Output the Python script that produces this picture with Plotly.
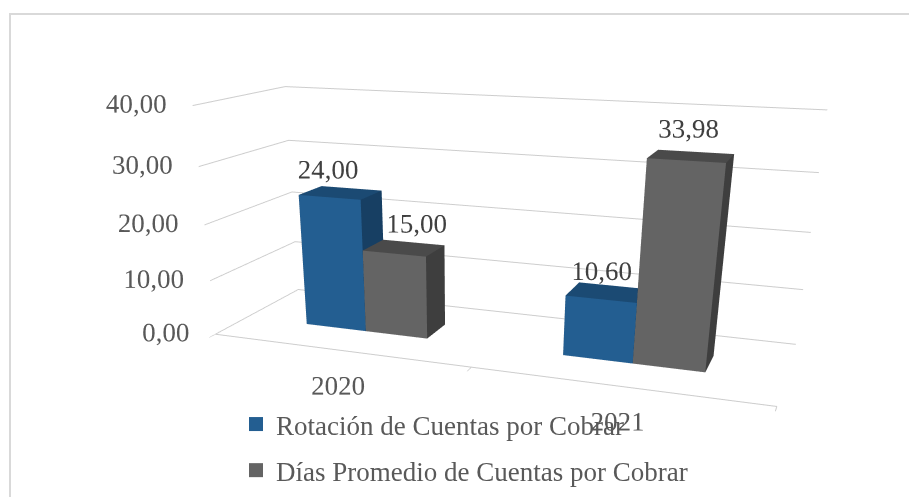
import plotly.graph_objects as go

categories = ["2020", "2021"]
series_names = ["Rotación de Cuentas por Cobrar", "Días Promedio de Cuentas por Cobrar"]
rotacion = [24.00, 10.60]
dias = [15.00, 33.98]
z_ticks = [0, 10, 20, 30, 40]
z_tick_labels = ["0,00", "10,00", "20,00", "30,00", "40,00"]

FONT = "Liberation Serif"
front_cols = ["#235E91", "#646464"]
top_cols = ["#1B4A73", "#4A4A4A"]
side_cols = ["#173F63", "#3E3E3E"]
GRID = "#CDCDCD"
# label placement per series / category: (text position, anchor as fraction of bar width)
label_pos = [["middle center", "middle center"], ["middle right", "middle center"]]
label_anchor = [[0.5, 0.5], [0.0, 0.5]]

BAR_W = 0.245
Y0, Y1 = 0.36, 0.64
XMIN, XMAX = -0.5, 1.5
LABEL_PAD = 4.5

# figure / scene geometry (perspective camera calibrated to the reference view)
W = 909
HV = 900
HLAY = 900
EYE = dict(x=1.4864, y=-4.4459, z=1.0648)
CENTER = dict(x=-0.0536, y=-0.3601, z=-0.9461)
ASPECT = dict(x=2.5, y=0.789, z=1.003)


def fmt(v):
    return f"{v:.2f}".replace(".", ",")


def box(xa, xb, h, fc, tc, sc):
    xs = [xa, xb, xb, xa, xa, xb, xb, xa]
    ys = [Y0, Y0, Y1, Y1, Y0, Y0, Y1, Y1]
    zs = [0, 0, 0, 0, h, h, h, h]
    i = [0, 0, 4, 4, 0, 0, 3, 3, 0, 0, 1, 1]
    j = [1, 2, 5, 6, 1, 5, 2, 6, 3, 7, 2, 6]
    k = [2, 3, 6, 7, 5, 4, 6, 7, 7, 4, 6, 5]
    cols = [sc, sc, tc, tc, fc, fc, sc, sc, sc, sc, sc, sc]
    return go.Mesh3d(x=xs, y=ys, z=zs, i=i, j=j, k=k, facecolor=cols,
                     flatshading=True, hoverinfo="skip", showlegend=False,
                     lighting=dict(ambient=1, diffuse=0, specular=0, roughness=1, fresnel=0))


fig = go.Figure()
all_series = [rotacion, dias]
for s, vals in enumerate(all_series):
    for c, v in enumerate(vals):
        xa = c - BAR_W + s * BAR_W
        fig.add_trace(box(xa, xa + BAR_W, v, front_cols[s], top_cols[s], side_cols[s]))

# data labels
for s, vals in enumerate(all_series):
    xs = [c - BAR_W + s * BAR_W + label_anchor[s][c] * BAR_W for c in range(len(vals))]
    fig.add_trace(go.Scatter3d(x=xs, y=[Y0] * len(vals), z=[v + LABEL_PAD for v in vals],
                               mode="text", text=[fmt(v) for v in vals],
                               textposition=label_pos[s],
                               textfont=dict(family=FONT, size=27, color="#404040"),
                               showlegend=False, hoverinfo="skip"))

# value-axis tick labels
fig.add_trace(go.Scatter3d(x=[XMIN] * len(z_ticks), y=[0] * len(z_ticks), z=z_ticks,
                           mode="text", text=z_tick_labels, textposition="middle left",
                           textfont=dict(family=FONT, size=27, color="#595959"),
                           showlegend=False, hoverinfo="skip"))
# category labels
fig.add_trace(go.Scatter3d(x=list(range(len(categories))), y=[0] * len(categories),
                           z=[0] * len(categories), mode="text", text=categories,
                           textposition="bottom center",
                           textfont=dict(family=FONT, size=27, color="#595959"),
                           showlegend=False, hoverinfo="skip"))

# legend entries
for s, name in enumerate(series_names):
    fig.add_trace(go.Scatter3d(x=[None], y=[None], z=[None], mode="markers", name=name,
                               legendgroup=f"g{s}",
                               marker=dict(symbol="square", size=14, color=front_cols[s])))

axis_common = dict(showbackground=False, showspikes=False, zeroline=False,
                   title=dict(text=""), showticklabels=False)
fig.update_layout(
    width=W, height=HLAY,
    margin=dict(l=0, r=0, t=0, b=0),
    paper_bgcolor="white",
    showlegend=True,
    legend=dict(x=228 / W, y=1 - 392 / HLAY, xanchor="left", yanchor="top", tracegroupgap=8,
                font=dict(family=FONT, size=27, color="#595959"), bgcolor="rgba(0,0,0,0)"),
    scene=dict(
        domain=dict(x=[0, 1], y=[1 - HV / HLAY, 1]),
        xaxis=dict(**axis_common, range=[XMIN, XMAX], tickvals=[-0.5, 0.5, 1.5],
                   ticks="outside", ticklen=8, tickcolor=GRID, tickwidth=2,
                   showgrid=False, showline=True, linecolor=GRID, linewidth=2),
        yaxis=dict(**axis_common, range=[0, 1], showgrid=False, showline=False, ticks=""),
        zaxis=dict(**axis_common, range=[0, 40], tickvals=z_ticks, ticks="",
                   showgrid=True, gridcolor=GRID, gridwidth=2, showline=False),
        aspectmode="manual", aspectratio=ASPECT,
        camera=dict(eye=EYE, center=CENTER, up=dict(x=0, y=0, z=1),
                    projection=dict(type="perspective")),
    ),
    shapes=[dict(type="rect", xref="paper", yref="paper", x0=2 / W, x1=1.05,
                 y0=-0.1, y1=1 - 6 / HLAY, line=dict(color="#D9D9D9", width=2))],
)

fig.write_html("out.html")
